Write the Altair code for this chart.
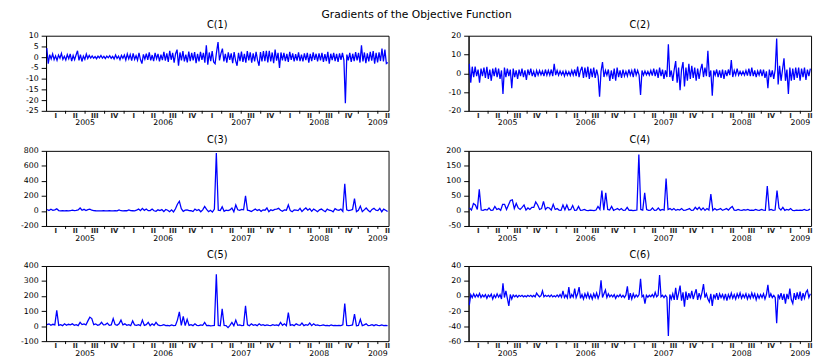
import altair as alt
import pandas as pd

# ---------------- data ----------------
START = 2005.0
END = 2009.3875

c1 = [4.2, -3, 1.2, -0.8, 1.5, -1.2, 0.6, -1.5, 1, -0.5, 1.8, -1, 0.4, -1.3, 1.2, -0.7, 1.5, -1.8, 0.8, -1.2,
      1, 3, -1.5, 1.2, -2, 0.5, -1, 1.5, -0.6, 0.8, -0.4, 0.6, -0.5, 0.3, -0.7, 0.5, -0.3, 0.8, -0.4, 0.4,
      -0.6, 0.5, -0.3, 0.7, -0.5, 0.4, -0.8, 1, -0.6, 0.5, -1.2, 0.8, -0.5, 1, -1.3, 1.5, -0.8, 1.2, -1.6, 1.8,
      -1, 0.7, -1.4, 2, -1.1, -3, 1.3, -0.9, 1.6, -1.2, 2.2, -1.5, 1, -1.8, 2, -0.8, 1.5, -2, 1.2, -1.4,
      2.5, -1.6, 1.8, -2.2, 3, -1.2, 2, -2.5, 1.6, 3.5, -4, 2.2, -1.5, 2.8, -2, 1.2, -2.4, 2.6, -1.8, 2,
      -1.5, 2.4, -2.8, 1.6, -2, 2.5, -1.2, 2, -2.6, 5.5, -3.5, 2.2, -1.8, 2.8, -2.2, -3, 2.5, 7, -1.5, 1.8,
      4, -2, 1.5, -2.5, 2.2, -1.2, 1.8, -2.8, 2.4, -1.6, -4, 2, -1.8, 2.6, -2.2, 1.5, -2.5, 2.8, -1.5, 2.2,
      -2.6, 1.8, -2, 2.5, -1.4, -4, 2.4, -2, 2.8, -1.8, 3, -2.4, 3, -2, 2.2, -2.8, 3.5, -1.6, 2, -5,
      2.2, -1.5, 2, -1.8, 1.5, -2.2, 2.5, -1.2, 1.8, -2, 1.4, -1.6, 2.2, -1.8, 1.2, -2, 1.8, -1.4, 2, -2.5,
      1.5, -1.8, 2.2, -1.2, 1.6, -2, 1.8, -1.5, 2, -2.2, 1.4, -1.8, 2.5, -3, 1.6, -1.4, 2, -1.8, 1.5, -2.2,
      1.8, -1.2, 2, -1.5, -21.5, 1.2, -1.5, 2, -2.2, 1.6, -1.8, 2.4, -1.5, 2, -2.5, 5.5, -2, 2.2, -2.8, 1.8,
      -2, 2.5, -1.6, 2.8, -3, 2, -2.4, 2.2, -1.8, 4, -2, 3.5, -3, -2.5]

c2 = [5, -5, 3.5, -2, 3.5, -1.5, 2, -5, 2.5, -1.5, 3, -2.5, 3.5, -3, 2, -4, 2.5, -1.5, 3, -2,
      2.5, -3, 1.5, -11, 3, -2, 2.5, -1.5, 2, -8, 2.5, -2, 1.5, -3, 2, -1.5, 2.5, -2, 1.5, -3.5,
      2, -1, 2.5, -1.5, 1, -2, 1.5, -1, 1.5, -0.8, 1.2, -1.5, 2, -1, 1.5, -1, 2, -1.5, 5, -1,
      1.5, -1, 1.2, -0.8, 1, -1.5, 1.2, -1, 0.8, -1.2, 1.5, -1, 2, -1.5, 3.5, -2, 1.5, 3.5, -2.5, 3,
      -2, 3.5, -3, 2.5, -2, 3, -2.5, 2, -1.5, -12.5, 1, 6, -2, 1.5, -1, 2, -4, 1.5, -3, 2.5,
      -4, 3, -2, 1.5, -2.5, 2, -1.5, 1, -1.5, 2, -1, 1.5, -2, 2.5, -1, 1.5, -1, -11.5, 1.5, -1,
      1.2, -0.8, 1, -1, 1.5, -1.2, 2.5, -1.5, 2, -2.5, 3, -1.5, 2, -3, 1.5, -2, 15.5, -2, 1.5, -4,
      2, 6.5, -5, 3, -9, 2, 6, -7, 3, -4, 5, -3, 4, -2.5, 3, -4, 2.5, -3, 2, 5,
      -2, 3, -1.5, 12, -2, 1.5, -12, 1.5, -1, 2, -2, 1.5, -2.5, 2, -3, 1.5, -1.5, 2, -1, 7,
      -2, 1.5, -1, 2.5, -1, 1, -0.8, 1, -1, 1.5, -1.2, 2.5, -1.5, 3, -1.5, 1.5, -2, 1.2, -1, 2,
      -1.5, 2, -2.5, 1, -8, 2, -2, 1.5, -3, 2, 18.5, -6, 4, -4, 2, 8, -4, 2, -11, 3,
      -4, 2.5, -3.5, 3, -2.5, 3, -4, 2.5, -2, 3, -3.5, 2, -1.5, 2.5]

c3 = [20, 5, 22, 8, 15, 28, 5, 2, 3, 1,
      4, 2, 3, 12, 5, 8, 15, 40, 10, 22,
      5, 18, 25, 10, 6, 3, 2, 1, 2, 3,
      1, 2, 3, 2, 1, 3, 2, 15, 3, 2,
      5, 3, 15, 4, 3, 2, 10, 25, 5, 35,
      8, 25, 4, 6, 25, 3, -5, 15, 5, 18,
      -8, 20, 10, -10, 15, -12, 30, 90, 130, 30,
      -5, 10, 15, 5, 3, -8, 25, 5, 20, -10,
      15, 60, 20, -10, 10, -15, 25, 770, 10, 5,
      55, -5, 10, 5, 15, 40, -10, 80, 15, 8,
      20, 15, 200, 10, 5, -8, 10, 25, 5, 18,
      -5, 15, 10, 40, -10, 15, 5, 20, 25, 35,
      10, -5, 15, 10, 80, 5, -10, 15, 10, 5,
      35, -8, 20, 40, 10, 30, -5, 25, 10, -10,
      15, 25, 5, -10, 25, 10, 5, -12, 30, 15,
      10, 25, -5, 360, 15, 5, 10, 20, 165, -8,
      10, 65, -10, 15, 40, 10, -12, 20, 35, 10,
      5, 35, -10, 25, 10, -8]

c4 = [10, 3, 25, 20, 5, 72, 3, 2, 5, 3,
      10, 2, 3, 15, 5, 8, 2, 22, 22, 5,
      20, 35, 37, 8, 25, 10, 5, 12, 20, 3,
      10, 5, 12, 12, 30, 20, 5, 8, 32, 5,
      12, 10, 3, 22, 5, 8, 3, 2, 20, 4,
      20, 3, 5, 18, 2, 3, 15, 2, 3, 5,
      2, 1, 3, 2, 1, 3, 15, 5, 68, 3,
      60, 5, 3, 15, 2, 5, 8, 3, 8, 2,
      3, 12, 2, 3, 1, 2, 3, 188, 5, 3,
      60, 5, 2, 3, 10, 2, 3, 10, 2, 5,
      3, 108, 5, 8, 3, 8, 2, 5, 3, 8,
      2, 3, 5, 8, 2, 3, 12, 5, 12, 3,
      10, 2, 8, 3, 56, 2, 8, 3, 5, 8,
      2, 5, 8, 3, 10, 15, 3, 2, 5, 3,
      2, 4, 3, 5, 2, 3, 2, 5, 3, 2,
      5, 3, 2, 83, 3, 5, 2, 3, 68, 10,
      3, 12, 2, 5, 3, 8, 2, 1, 3, 2,
      3, 2, 5, 2, 3, 6]

c5 = [10, 15, 5, 12, 8, 105, 5, 10, 3, 15,
      5, 12, 8, 15, 5, 10, 3, 25, 10, 15,
      8, 35, 60, 50, 10, 15, 5, 10, 25, 8,
      10, 20, 5, 8, 50, 10, 5, 15, 40, 8,
      15, 5, 10, 3, 35, 8, 5, 10, 3, 40,
      5, 10, 25, 3, 15, 5, 25, 8, 3, 5,
      10, 3, 5, 2, 8, 3, 5, 40, 95, 5,
      65, 3, 45, 5, 10, 3, 15, 5, 3, 8,
      5, 25, 3, 5, 2, 3, 5, 345, 5, 3,
      115, 5, 3, -10, 5, 25, 3, 40, 5, 8,
      3, 5, 135, 8, 3, 15, 5, 10, 3, 15,
      5, 10, 3, 8, 5, 3, 10, 5, 8, 3,
      25, 5, 15, 3, 90, 5, 10, 3, 15, 8,
      5, 20, 3, 10, 5, 20, 3, 15, 5, 8,
      3, 5, 8, 3, 5, 2, 8, 3, 5, 3,
      5, 3, 8, 150, 5, 3, 5, 8, 80, 3,
      5, 45, 3, 8, 15, 3, 5, 10, 3, 10,
      5, 3, 8, 3, 5, 3]

c6 = [-12, 2, -2, 3, -1.5, 2, -1, 3.5, -2, 1.5, -1, 2, -3, 1.5, -1, 2.5, -4, 1.5, -2, 3,
      -1.5, 2, -4, 17, -2, 7, -3, -13, 2, -4, 1.5, -1, 1, -1.5, 1, -0.5, 1, -1, 0.5, -1,
      1, -0.5, 1, -1, 0.8, -1, 4, 1, -1, 0.5, 7, -1, 1, -0.5, 1, -1, 1.5, -1, 0.5, -1,
      1.5, -1, 2, -1.5, 7, -2, 1.5, -2.5, 12, -3, 2, -1.5, 10, -2, 3, 12, -3, 2, -4, 3,
      -2, 4, -3, 2, -4, 3, -2, 4, -3, 2.5, 21, -2, 3, 8, -2, 3, -1, 1.5, -1, 2,
      -3, 1, -1, 2, -1.5, 1, -2, 1.5, 13, -5, 4, -4, 3, -2, 1.5, -1, 2, 23, -1, 1,
      -10, 1, -1.5, 1, -1, 2, -1.5, 5, -1, 1, 28, -1, 1, -2, 1, -1.5, -53, 2, -4, 3,
      -5, 11, -5, 4, 14, -6, 5, -14, 6, -5, 4, -3, 7, -4, 3, 9, -5, 4, -3, 5,
      16, -2, 3, -4, -8, 3, -13, 2, -3, 4, -5, 3, -2, 2, -4, 3, -6, 2, -3, 4,
      -3, 2, -4, 3, -2, 4, -3, 2, -2, 3, -4, 2, -3, 4, -2, 3, -5, 2, -3, 2,
      -2, 3, -4, 2, 15, -2, 3, -2, 1, -2, -36, 2, -3, 4, -5, 3, -10, 3, -4, 10,
      -5, -10, 4, -5, 5, -4, 6, -6, 4, -3, 5, 8, -2, 3]

panel_titles = ["C(1)", "C(2)", "C(3)", "C(4)", "C(5)", "C(6)"]
series = [c1, c2, c3, c4, c5, c6]
y_ranges = [(-25, 10, 5), (-20, 20, 10), (-200, 800, 200),
            (-50, 200, 50), (-100, 400, 100), (-60, 40, 20)]

years = [2005, 2006, 2007, 2008, 2009]
year_labels = ["2005", "2006", "2007", "2008", "2009"]
year_label_pos = [2005.5, 2006.5, 2007.5, 2008.5, 2009.25]
quarter_names = ["I", "II", "III", "IV"]

q_pos, q_lab = [], []
for y in years:
    for q in range(4):
        c = y + q * 0.25 + 0.125
        if c < END:
            q_pos.append(c)
            q_lab.append(quarter_names[q])
q_bounds = [y + q * 0.25 for y in years for q in range(4)
            if START < y + q * 0.25 < END]

W, H = 351, 77
FONT = "DejaVu Sans"
BLUE = "#0000FF"


def panel(name, values, yr):
    ymin, ymax, step = yr
    n = len(values)
    # evenly spaced observation times across the sample
    t = [START + (i + 0.5) * (END - START) / n for i in range(n)]
    xscale = alt.Scale(domain=[START, END], nice=False, zero=False)
    df = pd.DataFrame({"t": t, "v": values})
    line = alt.Chart(df).mark_line(color=BLUE, strokeWidth=1.3, clip=True).encode(
        x=alt.X("t:Q", scale=xscale,
                axis=alt.Axis(title=None, grid=False, ticks=False, labels=False,
                              domainColor="#000")),
        y=alt.Y("v:Q", scale=alt.Scale(domain=[ymin, ymax], nice=False, zero=False),
                axis=alt.Axis(values=list(range(ymin, ymax + 1, step)), title=None, grid=False,
                              tickSize=5, tickColor="#000", labelPadding=3, labelFontSize=8,
                              labelFont=FONT, labelColor="#000", domainColor="#000",
                              labelExpr="replace(datum.label, '\u2212', '-')")),
    )
    ticks = alt.Chart(pd.DataFrame({"b": q_bounds})).mark_rule(color="#000").encode(
        x=alt.X("b:Q", scale=xscale, axis=None),
        y=alt.value(H), y2=alt.value(H + 3),
    )
    qlabs = alt.Chart(pd.DataFrame({"p": q_pos, "lab": q_lab})).mark_text(
        fontSize=7, font=FONT, fontWeight="bold", color="#222",
        baseline="middle").encode(
        x=alt.X("p:Q", scale=xscale, axis=None),
        y=alt.value(H + 5),
        text="lab:N",
    )
    yrs = alt.Chart(pd.DataFrame({"p": year_label_pos, "lab": year_labels})).mark_text(
        fontSize=8, font=FONT, color="#000", baseline="middle").encode(
        x=alt.X("p:Q", scale=xscale, axis=None),
        y=alt.value(H + 13),
        text="lab:N",
    )
    return alt.layer(line, ticks, qlabs, yrs).properties(
        width=W, height=H,
        title=alt.TitleParams(name, fontSize=10, font=FONT, fontWeight="normal",
                              color="#000", offset=2),
    )


panels = [panel(n, s, r) for n, s, r in zip(panel_titles, series, y_ranges)]

chart = alt.concat(*panels, columns=2, spacing={"row": 41, "column": 82},
                   bounds="flush").properties(
    title=alt.TitleParams("Gradients of the Objective Function", fontSize=11, font=FONT,
                          fontWeight="normal", color="#000", anchor="middle", offset=0),
    padding={"left": 12, "top": -4, "right": 0, "bottom": 0},
).configure_view(stroke="#000", strokeWidth=1)

chart.save("out.html", embed_options={"renderer": "svg", "actions": False})
